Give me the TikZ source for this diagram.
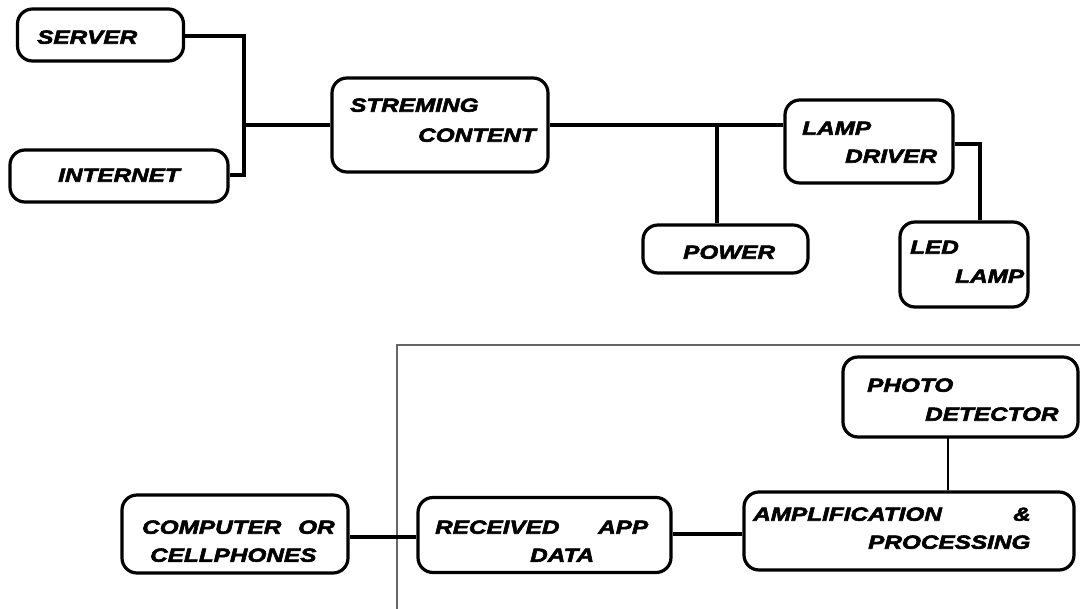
\documentclass[tikz,border=0pt]{standalone}
\usepackage{fontspec}
\setmainfont{Liberation Sans}[FakeStretch=1.28, BoldItalicFeatures={FakeBold=3}]
\usetikzlibrary{calc}
\begin{document}
\begin{tikzpicture}[x=1pt,y=-1pt,
  blk/.style={draw, line width=3.2pt, rounded corners=15pt, inner sep=0pt},
  lbl/.style={anchor=west, inner sep=0pt, text height=13.5pt, text depth=0pt,
    font=\fontsize{19}{19}\selectfont\bfseries\itshape},
  wire/.style={line width=3.2pt},
  thinwire/.style={line width=2pt},
  frameline/.style={draw=black!60, line width=1.4pt}]
\useasboundingbox (0,0) rectangle (1080,609);
% boxes
\node[blk, minimum width=166pt, minimum height=52pt] (server) at (100.5,35) {};
\node[blk, minimum width=218pt, minimum height=52pt] (internet) at (119,176) {};
\node[blk, minimum width=216pt, minimum height=94pt] (stream) at (440,125) {};
\node[blk, minimum width=165pt, minimum height=48pt] (power) at (725.5,249) {};
\node[blk, minimum width=168pt, minimum height=83pt] (driver) at (869,141.5) {};
\node[blk, minimum width=128pt, minimum height=85pt] (led) at (964,264.5) {};
\node[blk, minimum width=235pt, minimum height=80pt] (photo) at (960.5,397) {};
\node[blk, minimum width=330pt, minimum height=78pt] (amp) at (909,531) {};
\node[blk, minimum width=253pt, minimum height=75pt] (recv) at (544.5,535) {};
\node[blk, minimum width=226pt, minimum height=78pt] (comp) at (235,534) {};
% labels
\node[lbl] (tserver) at (37,37) {SERVER};
\node[lbl] (tinternet) at (58,175) {INTERNET};
\node[lbl] (tstream1) at (350,105) {STREMING};
\node[lbl] (tstream2) at (418,135) {CONTENT};
\node[lbl] (tpower) at (683,252) {POWER};
\node[lbl] (tdriver1) at (802,128) {LAMP};
\node[lbl] (tdriver2) at (845,156) {DRIVER};
\node[lbl] (tled1) at (910,247) {LED};
\node[lbl] (tled2) at (955,276) {LAMP};
\node[lbl] (tphoto1) at (867,385) {PHOTO};
\node[lbl] (tphoto2) at (925,414) {DETECTOR};
\node[lbl] (tamp1) at (753,514) {AMPLIFICATION};
\node[lbl] (tamp2) at (1013,514) {\&};
\node[lbl] (tamp3) at (868,542) {PROCESSING};
\node[lbl] (trecv1) at (435,527) {RECEIVED};
\node[lbl] (trecv2) at (598,527) {APP};
\node[lbl] (trecv3) at (530,555) {DATA};
\node[lbl] (tcomp1) at (142,527) {COMPUTER};
\node[lbl] (tcomp2) at (298,527) {OR};
\node[lbl] (tcomp3) at (150,555) {CELLPHONES};
% frame
\coordinate (f1) at (397,609);
\coordinate (f2) at (397,345);
\coordinate (f3) at (1080,345);
\draw[frameline] (f1) -- (f2) -- (f3);
% connectors
\coordinate (bus) at (244,125);
\draw[wire] (server.east |- 0,36) -| (bus);
\draw[wire] (internet.east |- 0,175) -| (bus);
\draw[wire] (bus) -- (stream.west |- bus);
\coordinate (jn) at (717,125);
\draw[wire] (stream.east |- jn) -- (driver.west |- jn);
\draw[wire] (jn) -- (jn |- power.north);
\coordinate (dl) at (980,144);
\draw[wire] (driver.east |- dl) -- (dl) -- (dl |- led.north);
\coordinate (pa) at (948,437);
\draw[thinwire] (pa) -- (pa |- amp.north);
\draw[wire] (recv.east |- 0,534) -- (amp.west |- 0,534);
\draw[wire] (comp.east |- 0,537) -- (recv.west |- 0,537);
\end{tikzpicture}
\end{document}
